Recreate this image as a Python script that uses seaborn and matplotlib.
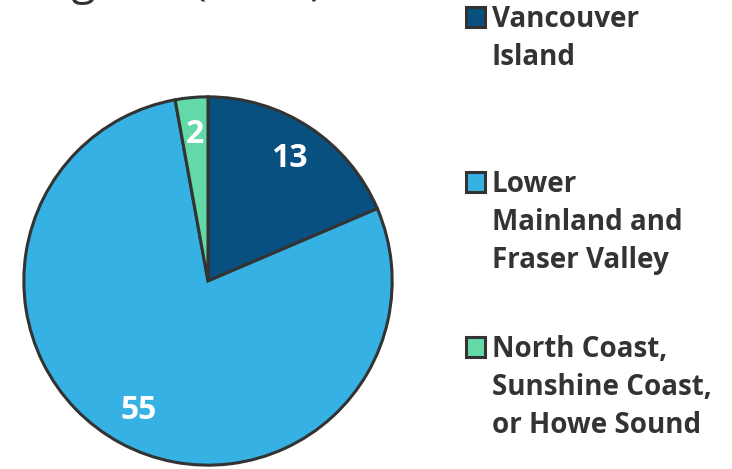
import matplotlib
matplotlib.use("Agg")
import matplotlib.pyplot as plt
from matplotlib.patches import Rectangle
import seaborn as sns

# data
regions = ["Vancouver\nIsland", "Lower\nMainland and\nFraser Valley",
           "North Coast,\nSunshine Coast,\nor Howe Sound"]
counts = [13, 55, 2]
title = "Regions (n=70)"
colors = sns.color_palette(["#08507f", "#35b1e4", "#64d9a8"])

sns.set_theme(style="white")
plt.rcParams["font.family"] = ["Open Sans", "DejaVu Sans"]

W, H = 732, 469
fig = plt.figure(figsize=(W / 100, H / 100), dpi=100)

# pie axes: centre (208, 281) px, radius 186 px
cx, cy, r = 208, 281, 186
ax = fig.add_axes([(cx - r) / W, (H - cy - r) / H, 2 * r / W, 2 * r / H])

wedges, texts, autotexts = ax.pie(
    counts, colors=colors, startangle=90, counterclock=False,
    autopct=lambda p: f"{p * sum(counts) / 100:.0f}", pctdistance=0.8,
    wedgeprops=dict(edgecolor="#333333", linewidth=2.2),
    textprops=dict(color="white", fontsize=23, fontweight="bold"))
ax.set_xlim(-1.01, 1.01)
ax.set_ylim(-1.01, 1.01)
ax.axis("off")

# title (cut off at top of the image, as in the original)
fig.text(19 / W, 1 + 6 / H, title, fontsize=32, color="#333333",
         va="baseline", ha="left")

# legend
tops = [7, 172, 337]
for lab, col, top in zip(regions, colors, tops):
    fig.patches.append(Rectangle((466 / W, 1 - (top + 20) / H), 19 / W, 20 / H,
                                 transform=fig.transFigure, facecolor=col,
                                 edgecolor="#333333", linewidth=2.2))
    fig.text(492 / W, 1 - (top - 2) / H, lab, fontsize=20, fontweight="bold",
             color="#333333", va="top", ha="left", linespacing=1.42)

fig.savefig("out.png", dpi=100)
